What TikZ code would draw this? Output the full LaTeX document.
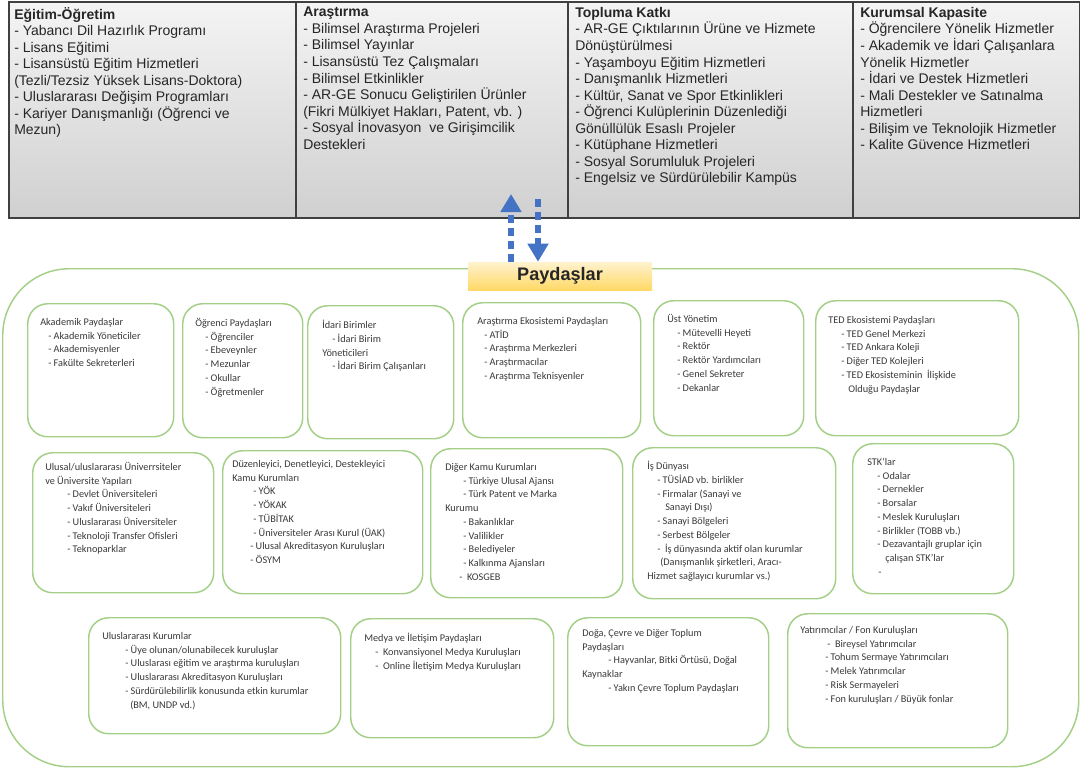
\documentclass[tikz,border=0pt]{standalone}
\usepackage{fontspec}
\setmainfont{Liberation Sans}
\newfontfamily\calfont{Carlito}
\usetikzlibrary{arrows.meta,positioning,calc}
\definecolor{ink}{HTML}{262626}
\definecolor{inksoft}{HTML}{3A3A3A}
\definecolor{paneline}{HTML}{404040}
\definecolor{panetop}{HTML}{F4F4F4}
\definecolor{panebot}{HTML}{D0D0D0}
\definecolor{leaf}{HTML}{A3CF86}
\definecolor{arrowblue}{HTML}{4472C4}
\definecolor{goldtop}{HTML}{FFF3CF}
\definecolor{goldbot}{HTML}{FFD866}
\newcommand{\pind}[1]{\hspace*{#1pt}}
\tikzset{
  pane/.style={draw=paneline, line width=1.3pt, top color=panetop, bottom color=panebot, anchor=north west, minimum height=162pt, inner sep=0pt},
  panetext/.style={anchor=north west, inner sep=0pt, align=left, text=ink, font=\fontsize{10.5}{12.4}\selectfont, execute at begin node=\strut},
  pbox/.style={draw=leaf, line width=1.1pt, rounded corners=15pt, fill=white, anchor=north west, inner sep=0pt},
  ptext/.style={anchor=north west, inner sep=0pt, align=left, text=inksoft, font=\calfont\fontsize{7.7}{10.3}\selectfont, execute at begin node=\strut},
  outerring/.style={draw=leaf, line width=1.1pt, rounded corners=50pt, anchor=north west, inner sep=0pt},
  paylabel/.style={top color=goldtop, bottom color=goldbot, minimum width=138pt, minimum height=21pt, font=\bfseries\fontsize{13.6}{16}\selectfont, text=ink, inner sep=0pt},
  blueflow/.style={line width=4.5pt, color=arrowblue, dash pattern=on 6pt off 3.75pt, -{Triangle[length=13.5pt,width=15pt]}}
}
\begin{document}
\begin{tikzpicture}[x=0.75pt,y=-0.75pt]
  \useasboundingbox (0,0) rectangle (1080,771);
  % top panels
  \node[pane, minimum width=215.25pt] (egitim) at (8,1) {};
  \node[pane, minimum width=204pt] (arastirma) at (295,1) {};
  \node[pane, minimum width=213.75pt] (toplum) at (567,1) {};
  \node[pane, minimum width=170.25pt] (kurum) at (852,1) {};
  \node[panetext] (egitimt) at ($(egitim.north west)+(6,6)$) {\textbf{Eğitim-Öğretim}\\- Yabancı Dil Hazırlık Programı\\- Lisans Eğitimi\\- Lisansüstü Eğitim Hizmetleri\\(Tezli/Tezsiz Yüksek Lisans-Doktora)\\- Uluslararası Değişim Programları\\- Kariyer Danışmanlığı (Öğrenci ve\\Mezun)};
  \node[panetext] (arastirmat) at ($(arastirma.north west)+(8,6)$) {\textbf{Araştırma}\\- Bilimsel Araştırma Projeleri\\- Bilimsel Yayınlar\\- Lisansüstü Tez Çalışmaları\\- Bilimsel Etkinlikler\\- AR-GE Sonucu Geliştirilen Ürünler\\(Fikri Mülkiyet Hakları, Patent, vb. )\\- Sosyal İnovasyon\ \ ve Girişimcilik\\Destekleri};
  \node[panetext] (toplumt) at ($(toplum.north west)+(8,6)$) {\textbf{Topluma Katkı}\\- AR-GE Çıktılarının Ürüne ve Hizmete\\Dönüştürülmesi\\- Yaşamboyu Eğitim Hizmetleri\\- Danışmanlık Hizmetleri\\- Kültür, Sanat ve Spor Etkinlikleri\\- Öğrenci Kulüplerinin Düzenlediği\\Gönüllülük Esaslı Projeler\\- Kütüphane Hizmetleri\\- Sosyal Sorumluluk Projeleri\\- Engelsiz ve Sürdürülebilir Kampüs};
  \node[panetext] (kurumt) at ($(kurum.north west)+(8,6)$) {\textbf{Kurumsal Kapasite}\\- Öğrencilere Yönelik Hizmetler\\- Akademik ve İdari Çalışanlara\\Yönelik Hizmetler\\- İdari ve Destek Hizmetleri\\- Mali Destekler ve Satınalma\\Hizmetleri\\- Bilişim ve Teknolojik Hizmetler\\- Kalite Güvence Hizmetleri};
  % stakeholder ring
  \node[outerring, minimum width=807pt, minimum height=373.5pt] (ring) at (2,268) {};
  % row 1
  \node[pbox, minimum width=109.5pt, minimum height=99.75pt] (akad) at (27,303) {};
  \node[ptext] (akadt) at ($(akad.north west)+(13,15)$) {Akademik Paydaşlar\\\pind{6}- Akademik Yöneticiler\\\pind{6}- Akademisyenler\\\pind{6}- Fakülte Sekreterleri};
  \node[pbox, minimum width=90pt, minimum height=100.5pt] (ogr) at (182,303) {};
  \node[ptext] (ogrt) at ($(ogr.north west)+(13,15)$) {Öğrenci Paydaşları\\\pind{7.5}- Öğrenciler\\\pind{7.5}- Ebeveynler\\\pind{7.5}- Mezunlar\\\pind{7.5}- Okullar\\\pind{7.5}- Öğretmenler};
  \node[pbox, minimum width=109.5pt, minimum height=99.75pt] (idari) at (307,305) {};
  \node[ptext] (idarit) at ($(idari.north west)+(15,15)$) {İdari Birimler\\\pind{7.5}- İdari Birim\\Yöneticileri\\\pind{7.5}- İdari Birim Çalışanları};
  \node[pbox, minimum width=133.5pt, minimum height=101.25pt] (ekos) at (462,302) {};
  \node[ptext] (ekost) at ($(ekos.north west)+(15,15)$) {Araştırma Ekosistemi Paydaşları\\\pind{5.25}- ATİD\\\pind{5.25}- Araştırma Merkezleri\\\pind{5.25}- Araştırmacılar\\\pind{5.25}- Araştırma Teknisyenler};
  \node[pbox, minimum width=112.5pt, minimum height=101.25pt] (ust) at (653,300) {};
  \node[ptext] (ustt) at ($(ust.north west)+(14,14)$) {Üst Yönetim\\\pind{7.5}- Mütevelli Heyeti\\\pind{7.5}- Rektör\\\pind{7.5}- Rektör Yardımcıları\\\pind{7.5}- Genel Sekreter\\\pind{7.5}- Dekanlar};
  \node[pbox, minimum width=152.25pt, minimum height=101.25pt] (ted) at (815,300) {};
  \node[ptext] (tedt) at ($(ted.north west)+(13,16)$) {TED Ekosistemi Paydaşları\\\pind{9.75}- TED Genel Merkezi\\\pind{9.75}- TED Ankara Koleji\\\pind{9.75}- Diğer TED Kolejleri\\\pind{9.75}- TED Ekosisteminin\ \ İlişkide\\\pind{15}Olduğu Paydaşlar};
  % row 2
  \node[pbox, minimum width=135.75pt, minimum height=105pt] (univ) at (32,452) {};
  \node[ptext] (univt) at ($(univ.north west)+(13,10)$) {Ulusal/uluslararası Üniverrsiteler\\ve Üniversite Yapıları\\\pind{16.5}- Devlet Üniversiteleri\\\pind{16.5}- Vakıf Üniversiteleri\\\pind{16.5}- Uluslararası Üniversiteler\\\pind{16.5}- Teknoloji Transfer Ofisleri\\\pind{16.5}- Teknoparklar};
  \node[pbox, minimum width=150pt, minimum height=107.25pt] (duzen) at (222,450) {};
  \node[ptext] (duzent) at ($(duzen.north west)+(10,10)$) {Düzenleyici, Denetleyici, Destekleyici\\Kamu Kurumları\\\pind{15.75}- YÖK\\\pind{15.75}- YÖKAK\\\pind{15.75}- TÜBİTAK\\\pind{15.75}- Üniversiteler Arası Kurul (ÜAK)\\\pind{13.5}- Ulusal Akreditasyon Kuruluşları\\\pind{13.5}- ÖSYM};
  \node[pbox, minimum width=144pt, minimum height=111.75pt] (kamu) at (430,448) {};
  \node[ptext] (kamut) at ($(kamu.north west)+(15,15)$) {Diğer Kamu Kurumları\\\pind{13.5}- Türkiye Ulusal Ajansı\\\pind{13.5}- Türk Patent ve Marka\\Kurumu\\\pind{13.5}- Bakanlıklar\\\pind{13.5}- Valilikler\\\pind{13.5}- Belediyeler\\\pind{13.5}- Kalkınma Ajansları\\\pind{10.5}-\ \ KOSGEB};
  \node[pbox, minimum width=152.25pt, minimum height=113.25pt] (is) at (632,447) {};
  \node[ptext] (ist) at ($(is.north west)+(15,14)$) {İş Dünyası\\\pind{7.5}- TÜSİAD vb. birlikler\\\pind{7.5}- Firmalar (Sanayi ve\\\pind{13.5}Sanayi Dışı)\\\pind{7.5}- Sanayi Bölgeleri\\\pind{7.5}- Serbest Bölgeler\\\pind{7.5}-\ \ İş dünyasında aktif olan kurumlar\\\pind{9.75}(Danışmanlık şirketleri, Aracı-\\Hizmet sağlayıcı kurumlar vs.)};
  \node[pbox, minimum width=120.75pt, minimum height=112.5pt] (stk) at (852,443) {};
  \node[ptext] (stkt) at ($(stk.north west)+(15,15)$) {STK’lar\\\pind{7.5}- Odalar\\\pind{7.5}- Dernekler\\\pind{7.5}- Borsalar\\\pind{7.5}- Meslek Kuruluşları\\\pind{7.5}- Birlikler (TOBB vb.)\\\pind{7.5}- Dezavantajlı gruplar için\\\pind{13.5}çalışan STK’lar\\\pind{8.25}-};
  % row 3
  \node[pbox, minimum width=189pt, minimum height=87pt] (intl) at (88,617) {};
  \node[ptext] (intlt) at ($(intl.north west)+(14,15)$) {Uluslararası Kurumlar\\\pind{17.25}- Üye olunan/olunabilecek kuruluşlar\\\pind{17.25}- Uluslarası eğitim ve araştırma kuruluşları\\\pind{17.25}- Uluslararası Akreditasyon Kuruluşları\\\pind{17.25}- Sürdürülebilirlik konusunda etkin kurumlar\\\pind{21}(BM, UNDP vd.)};
  \node[pbox, minimum width=152.25pt, minimum height=89.25pt] (medya) at (350,618) {};
  \node[ptext] (medyat) at ($(medya.north west)+(14,15)$) {Medya ve İletişim Paydaşları\\\pind{8.25}-\ \ Konvansiyonel Medya Kuruluşları\\\pind{8.25}-\ \ Online İletişim Medya Kuruluşları};
  \node[pbox, minimum width=150.75pt, minimum height=96pt] (doga) at (567,617) {};
  \node[ptext] (dogat) at ($(doga.north west)+(15,12)$) {Doğa, Çevre ve Diğer Toplum\\Paydaşları\\\pind{19.5}- Hayvanlar, Bitki Örtüsü, Doğal\\Kaynaklar\\\pind{19.5}- Yakın Çevre Toplum Paydaşları};
  \node[pbox, minimum width=165pt, minimum height=100.5pt] (yatir) at (787,613) {};
  \node[ptext] (yatirt) at ($(yatir.north west)+(13,13)$) {Yatırımcılar / Fon Kuruluşları\\\pind{20.25}-\ \ Bireysel Yatırımcılar\\\pind{18.75}- Tohum Sermaye Yatırımcıları\\\pind{18.75}- Melek Yatırımcılar\\\pind{18.75}- Risk Sermayeleri\\\pind{18.75}- Fon kuruluşları / Büyük fonlar};
  % label and arrows
  \node[paylabel] (pay) at (560,276) {Paydaşlar};
  \coordinate (uptip) at (511,194);
  \coordinate (dntail) at (538,199);
  \draw[blueflow] (uptip |- pay.north) -- (uptip);
  \draw[blueflow] (dntail) -- (dntail |- pay.north);
\end{tikzpicture}
\end{document}
